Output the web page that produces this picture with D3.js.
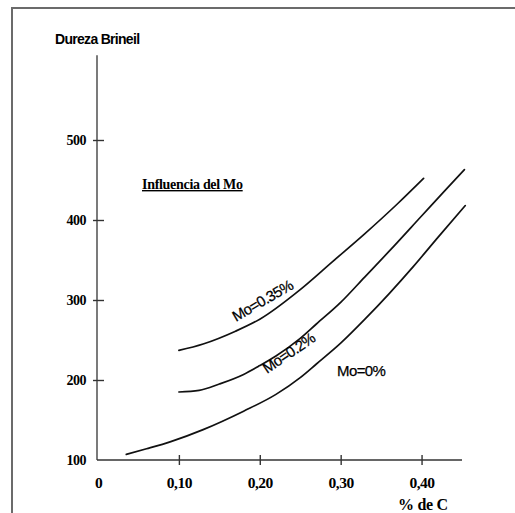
<!DOCTYPE html>
<html>
<head>
<meta charset="utf-8">
<script src="https://cdn.jsdelivr.net/npm/d3@7"></script>
<style>
  body { margin: 0; background: #fff; }
  svg { display: block; }
</style>
</head>
<body>
<div id="chart"></div>
<script>
// axis ticks
const yTicks = [100, 200, 300, 400, 500];
const xTicks = [0, 0.10, 0.20, 0.30, 0.40];
const xTickLabels = ["0", "0,10", "0,20", "0,30", "0,40"];

// Mo = 0.35 %
const mo035C = [0.10, 0.13, 0.17, 0.20, 0.25, 0.29, 0.33, 0.37, 0.4025];
const mo035HB = [237, 245, 261, 276, 313, 348, 383, 420, 452];

// Mo = 0.2 %
const mo02C = [0.10, 0.125, 0.15, 0.18, 0.20, 0.22, 0.25, 0.27, 0.30, 0.33, 0.36, 0.40, 0.43, 0.453];
const mo02HB = [185, 187, 195, 207, 218, 230, 252, 270, 297, 329, 361, 405, 438, 463];

// Mo = 0 %
const mo0C = [0.035, 0.06, 0.09, 0.13, 0.18, 0.22, 0.25, 0.27, 0.30, 0.33, 0.36, 0.39, 0.42, 0.454];
const mo0HB = [107, 114, 123, 138, 161, 182, 203, 220, 246, 276, 308, 342, 378, 418];

const width = 515, height = 513;

const svg = d3.select("#chart")
    .append("svg")
        .attr("width", width)
        .attr("height", height);

// scanned page frame (top and left edges only)
svg.append("path")
    .attr("d", `M12,${height} L12,8 L${width},8`)
    .attr("fill", "none")
    .attr("stroke", "#6b6b6b")
    .attr("stroke-width", 2);

//scales
const x = d3.scaleLinear().domain([0, 0.45]).range([98, 462]);
const y = d3.scaleLinear().domain([100, 600]).range([460, 60]);
const yAxisTop = 606;

const axisColor = "#333";

//y axis
const yAxis = svg.append("g")
    .attr("transform", `translate(${x(0) - 1},0)`)
    .call(d3.axisLeft(y).tickValues(yTicks).tickFormat(d3.format("d")));
yAxis.select(".domain").remove();
yAxis.selectAll(".tick line")
    .attr("x1", -4).attr("x2", 7)
    .attr("stroke", axisColor).attr("stroke-width", 1.4)
    .filter(d => d === 100).remove();
yAxis.selectAll(".tick text")
    .attr("x", -11)
    .attr("fill", "#000")
    .style("font-family", "'Liberation Serif', serif")
    .style("font-weight", "bold")
    .style("font-size", "14px")
    .style("letter-spacing", "-0.5px");
svg.append("line")
    .attr("x1", x(0) - 1).attr("x2", x(0) - 1)
    .attr("y1", y(100)).attr("y2", y(yAxisTop))
    .attr("stroke", axisColor).attr("stroke-width", 1.3);

//x axis
const xAxis = svg.append("g")
    .attr("transform", `translate(0,${y(100)})`)
    .call(d3.axisBottom(x).tickValues(xTicks).tickFormat((d, i) => xTickLabels[i]));
xAxis.select(".domain").remove();
xAxis.selectAll(".tick line")
    .attr("y1", -5).attr("y2", 5)
    .attr("stroke", axisColor).attr("stroke-width", 1.4)
    .filter(d => d === 0).remove();
xAxis.selectAll(".tick text")
    .attr("y", 28).attr("dy", 0)
    .attr("fill", "#000")
    .style("font-family", "'Liberation Serif', serif")
    .style("font-weight", "bold")
    .style("font-size", "15.5px")
    .style("letter-spacing", "-0.5px");
svg.append("line")
    .attr("x1", x(0) - 1).attr("x2", x(0.45))
    .attr("y1", y(100)).attr("y2", y(100))
    .attr("stroke", axisColor).attr("stroke-width", 1.3);

//titles
svg.append("text")
    .attr("x", 55).attr("y", 44)
    .text("Dureza Brineil")
    .style("font-family", "'Liberation Sans', sans-serif")
    .style("font-weight", "bold")
    .style("font-size", "14px")
    .style("letter-spacing", "-0.7px");

svg.append("text")
    .attr("x", 423).attr("y", 510)
    .attr("text-anchor", "middle")
    .text("% de C")
    .style("font-family", "'Liberation Serif', serif")
    .style("font-weight", "bold")
    .style("font-size", "16px")
    .style("letter-spacing", "-0.3px");

svg.append("text")
    .attr("x", 142).attr("y", 189)
    .text("Influencia del Mo")
    .style("font-family", "'Liberation Serif', serif")
    .style("font-weight", "bold")
    .style("font-size", "14px")
    .style("letter-spacing", "-0.3px")
    .style("text-decoration", "underline");

//curves
const curves = [
    { c: mo035C, hb: mo035HB },
    { c: mo02C, hb: mo02HB },
    { c: mo0C, hb: mo0HB }
];

const line = d3.line()
    .x(d => x(d[0]))
    .y(d => y(d[1]))
    .curve(d3.curveMonotoneX);

svg.append("g")
    .selectAll("path")
    .data(curves)
    .join("path")
        .attr("d", d => line(d3.zip(d.c, d.hb)))
        .attr("fill", "none")
        .attr("stroke", "#111")
        .attr("stroke-width", 1.7)
        .attr("stroke-linecap", "round");

//curve labels
const labelStyle = sel => sel
    .attr("fill", "#000")
    .attr("stroke", "#000")
    .attr("stroke-width", 0.25)
    .style("font-family", "'Liberation Sans', sans-serif")
    .style("font-size", "15px")
    .style("letter-spacing", "-0.6px");

svg.append("text")
    .attr("transform", "translate(236,322) rotate(-30)")
    .text("Mo=0.35%")
    .call(labelStyle);

svg.append("text")
    .attr("transform", "translate(267,374) rotate(-34)")
    .text("Mo=0.2%")
    .call(labelStyle);

svg.append("text")
    .attr("x", 337).attr("y", 376)
    .text("Mo=0%")
    .call(labelStyle);
</script>
</body>
</html>
